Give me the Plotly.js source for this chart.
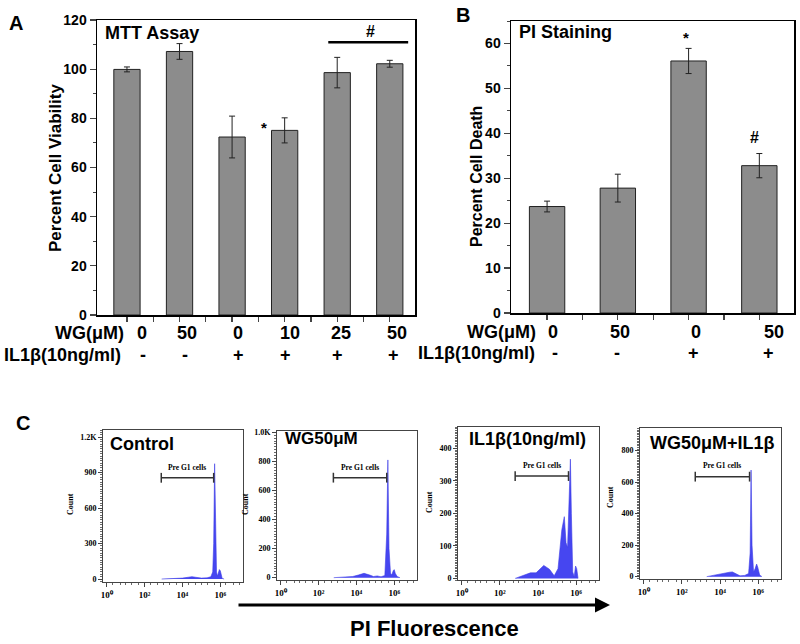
<!DOCTYPE html>
<html><head><meta charset="utf-8">
<script src="https://cdn.plot.ly/plotly-3.0.1.min.js"></script>
<style>html,body{margin:0;padding:0;background:#fff}#chart{width:800px;height:644px}</style>
</head><body><div id="chart"></div>
<script>
// ---------- data ----------
const wgA = ['0','50','0','10','25','50'];
const ilA = ['-','-','+','+','+','+'];
const viability = [99.9, 107.2, 72.4, 75.1, 98.6, 102.2];
const viabilityErr = [1.0, 3.2, 8.5, 5.1, 6.2, 1.4];

const wgB = ['0','50','0','50'];
const ilB = ['-','-','+','+'];
const death = [23.7, 27.8, 56.1, 32.8];
const deathErr = [1.2, 3.1, 2.8, 2.7];

// flow histograms: log10(PI fluorescence) and counts
const ctrlLog   = [2.9, 3.5, 4.0, 4.3, 4.5, 4.7, 5.0, 5.3, 5.5, 5.6, 5.65, 5.7, 5.75, 5.8, 5.85, 5.9, 5.95, 6.0, 6.05, 6.1, 6.2];
const ctrlCount = [0, 3, 8, 15, 20, 15, 8, 10, 20, 60, 300, 975, 300, 60, 25, 45, 80, 70, 20, 5, 0];
const wgLog     = [2.8, 3.3, 3.8, 4.1, 4.4, 4.7, 4.9, 5.1, 5.3, 5.5, 5.6, 5.66, 5.72, 5.8, 5.87, 5.95, 6.0, 6.05, 6.15, 6.3];
const wgCount   = [0, 3, 8, 18, 30, 18, 8, 12, 6, 15, 300, 810, 200, 30, 20, 50, 55, 30, 8, 0];
const ilLog     = [2.8, 3.3, 3.6, 3.9, 4.3, 4.6, 4.85, 5.05, 5.25, 5.38, 5.47, 5.55, 5.65, 5.7, 5.75, 5.82, 5.9, 5.97, 6.03, 6.1];
const ilCount   = [0, 10, 17, 17, 40, 28, 8, 30, 150, 190, 110, 95, 300, 367, 200, 20, 5, 38, 30, 0];
const comboLog  = [3.3, 3.6, 3.9, 4.2, 4.5, 4.65, 4.85, 5.05, 5.3, 5.5, 5.58, 5.63, 5.68, 5.76, 5.84, 5.92, 5.98, 6.08, 6.2];
const comboCount= [0, 8, 15, 20, 28, 30, 18, 5, 8, 20, 150, 677, 200, 30, 50, 80, 60, 10, 0];

const histTitles = ['Control', 'WG50μM', 'IL1β(10ng/ml)', 'WG50μM+IL1β'];
const gateLog   = [[2.88, 5.65], [2.78, 5.6], [2.8, 5.6], [2.7, 5.55]];
const gateCount = [856, 688, 315, 635];
const gateLabelCount = [946, 760, 349, 705];
const histTickVals = [[0,300,600,900,1200],[0,200,400,600,800,1000],[0,100,200,300,400],[0,200,400,600,800]];
const histTickText = [['0','300','600','900','1.2K'],['0','200','400','600','800','1.0K'],['0','100','200','300','400'],['0','200','400','600','800']];
const histYRange = [[-25,1260],[-16,1009],[-5,466],[-15,944]];
const xTickVals = [1, 100, 10000, 1000000];
const xTickText = ['10⁰','10²','10⁴','10⁶'];

// ---------- helpers (layout pixel -> paper) ----------
const W = 800, H = 644;
const px = x => x / W;
const py = y => 1 - y / H;
const SANS = 'Liberation Sans, Arial, sans-serif';
const SERIF = 'Liberation Serif, Times New Roman, serif';
const bold = (size, fam) => ({family: fam || SANS, size: size, color: '#000', weight: 'bold'});

const traces = [];
traces.push({type:'bar', x:[0,1,2,3,4,5], y:viability, width:0.5, xaxis:'x', yaxis:'y',
  marker:{color:'#8c8c8c', line:{color:'#222', width:1}},
  error_y:{type:'data', array:viabilityErr, color:'#222', thickness:1, width:3}, hoverinfo:'skip'});
traces.push({type:'bar', x:[0,1,2,3], y:death, width:0.5, xaxis:'x2', yaxis:'y2',
  marker:{color:'#8c8c8c', line:{color:'#222', width:1}},
  error_y:{type:'data', array:deathErr, color:'#222', thickness:1, width:3}, hoverinfo:'skip'});

const hists = [[ctrlLog, ctrlCount],[wgLog, wgCount],[ilLog, ilCount],[comboLog, comboCount]];
hists.forEach((h, i) => {
  const ax = 'x' + (i + 3), ay = 'y' + (i + 3);
  traces.push({type:'scatter', mode:'lines', x:h[0].map(v => Math.pow(10, v)), y:h[1],
    xaxis:ax, yaxis:ay, fill:'tozeroy', fillcolor:'rgb(70,70,240)',
    line:{color:'rgb(60,60,230)', width:0.6}, hoverinfo:'skip'});
  traces.push({type:'scatter', mode:'lines+markers', x:gateLog[i].map(v => Math.pow(10, v)),
    y:[gateCount[i], gateCount[i]], xaxis:ax, yaxis:ay,
    line:{color:'#333', width:1.5},
    marker:{symbol:'line-ns-open', size:7, line:{color:'#333', width:1.5}}, hoverinfo:'skip'});
});

const layout = {
  width: W, height: H, margin:{l:0, r:0, t:0, b:0},
  paper_bgcolor:'#fff', plot_bgcolor:'#fff', showlegend:false,
  xaxis:{domain:[px(97), px(415)], range:[-0.57, 5.48], anchor:'y',
    tickvals:[0,0.5,1,1.5,2,2.5,3,3.5,4,4.5,5,5.5], showticklabels:false, ticks:'outside', ticklen:5, tickwidth:1.3,
    showline:true, linewidth:1.5, linecolor:'#000', mirror:true, showgrid:false, zeroline:false, fixedrange:true},
  yaxis:{domain:[py(315), py(20)], range:[0,120], anchor:'x',
    tickvals:[0,20,40,60,80,100,120], ticks:'outside', ticklen:6, tickwidth:1.3,
    minor:{dtick:10, tick0:0, ticks:'outside', ticklen:3, tickwidth:1},
    tickfont:bold(14), showline:true, linewidth:1.5, linecolor:'#000', mirror:true, showgrid:false, zeroline:false},
  xaxis2:{domain:[px(511), px(794)], range:[-0.51, 3.49], anchor:'y2',
    tickvals:[0,0.5,1,1.5,2,2.5,3,3.5], showticklabels:false, ticks:'outside', ticklen:5, tickwidth:1.3,
    showline:true, linewidth:1.5, linecolor:'#000', mirror:true, showgrid:false, zeroline:false},
  yaxis2:{domain:[py(313), py(21)], range:[0,65], anchor:'x2',
    tickvals:[0,10,20,30,40,50,60], ticks:'outside', ticklen:6, tickwidth:1.3,
    minor:{dtick:5, tick0:0, ticks:'outside', ticklen:3, tickwidth:1},
    tickfont:bold(14), showline:true, linewidth:1.5, linecolor:'#000', mirror:true, showgrid:false, zeroline:false},
  shapes:[
    {type:'line', xref:'x', yref:'y', x0:3.83, x1:5.35, y0:111, y1:111, line:{color:'#000', width:2.5}}
  ],
  annotations:[]
};

const histDom = [
  {x:[103,243], y:[430,582]},
  {x:[277,417], y:[431,580]},
  {x:[458,599], y:[427,580]},
  {x:[640,781], y:[428,579]}
];
histDom.forEach((d, i) => {
  const n = i + 3;
  layout['xaxis' + n] = {domain:[px(d.x[0]), px(d.x[1])], type:'log', range:[-0.2, 7.2], anchor:'y' + n,
    tickvals:xTickVals, ticktext:xTickText, ticks:'outside', ticklen:4, tickwidth:1,
    minor:{dtick:'D2', ticks:'outside', ticklen:2, tickwidth:0.8},
    tickfont:bold(9, SERIF), showline:true, linewidth:1, linecolor:'#444', mirror:true, showgrid:false, zeroline:false};
  layout['yaxis' + n] = {domain:[py(d.y[1]), py(d.y[0])], range:histYRange[i], anchor:'x' + n,
    tickvals:histTickVals[i], ticktext:histTickText[i], ticks:'outside', ticklen:4, tickwidth:1,
    minor:{nticks:20, ticks:'outside', ticklen:2, tickwidth:0.8},
    tickfont:bold(8, SERIF), showline:true, linewidth:1, linecolor:'#444', mirror:true, showgrid:false, zeroline:false};
});

const A = layout.annotations;
const txt = (x, y, text, font, opts) => A.push(Object.assign({xref:'paper', yref:'paper', x:px(x), y:py(y),
  text:text, showarrow:false, font:font, xanchor:'center', yanchor:'middle'}, opts || {}));

// panel letters
txt(16, 23, 'A', bold(20));
txt(463, 15, 'B', bold(20));
txt(23, 423, 'C', bold(20));

// panel A texts
txt(103, 33, 'MTT Assay', bold(18), {xanchor:'left'});
txt(370, 32, '#', bold(16));
txt(264, 128, '*', bold(15));
txt(55, 168, 'Percent Cell Viability', bold(17), {textangle:-90});
txt(126, 333, 'WG(μM)', bold(18), {xanchor:'right'});
txt(123, 355, 'IL1β(10ng/ml)', bold(18), {xanchor:'right'});
const wgAx = [142, 187, 238, 290, 341, 397], ilAx = [143, 185, 238, 285, 337, 393];
wgA.forEach((t, i) => txt(wgAx[i], 333, t, bold(18)));
ilA.forEach((t, i) => txt(ilAx[i], 355, t, bold(18)));

// panel B texts
txt(517, 32, 'PI Staining', bold(18), {xanchor:'left'});
txt(686, 38, '*', bold(15));
txt(754, 137, '#', bold(16));
txt(476, 177, 'Percent Cell Death', bold(16), {textangle:-90});
txt(538, 332, 'WG(μM)', bold(18), {xanchor:'right'});
txt(537, 353, 'IL1β(10ng/ml)', bold(18), {xanchor:'right'});
const wgBx = [553, 620, 696, 774], ilBx = [555, 617, 693, 768];
wgB.forEach((t, i) => txt(wgBx[i], 332, t, bold(18)));
ilB.forEach((t, i) => txt(ilBx[i], 353, t, bold(18)));

// panel C texts
const titlePos = [[108, 444, 'left', 18], [283, 438, 'left', 17], [527, 439, 'center', 18], [712, 443, 'center', 18]];
const countPos = [[70, 504], [245, 504], [429, 502], [610, 497]];
histTitles.forEach((t, i) => {
  txt(titlePos[i][0], titlePos[i][1], t, bold(titlePos[i][3]), {xanchor:titlePos[i][2]});
  txt(countPos[i][0], countPos[i][1], 'Count', bold(8, SERIF), {textangle:-90});
  const n = i + 3;
  A.push({xref:'x' + n, yref:'y' + n, x:(gateLog[i][0] + gateLog[i][1]) / 2, y:gateLabelCount[i],
    text:'Pre G1 cells', showarrow:false, font:bold(7.5, SERIF), xanchor:'center', yanchor:'middle'});
});

// arrow and axis caption
A.push({xref:'paper', yref:'paper', x:px(610), y:py(605), ax:-373, ay:0, text:'', showarrow:true,
  arrowhead:2, arrowsize:1, arrowwidth:3, arrowcolor:'#000'});
txt(435, 628, 'PI Fluorescence', bold(22));

Plotly.newPlot('chart', traces, layout, {staticPlot:true, displayModeBar:false});
</script></body></html>
